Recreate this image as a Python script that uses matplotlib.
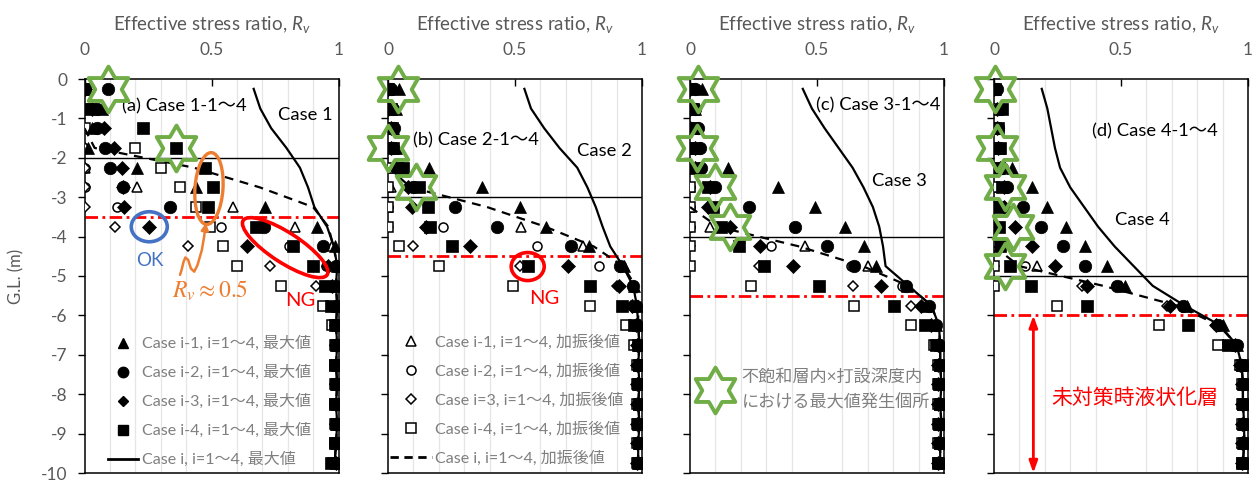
import numpy as np
import matplotlib
matplotlib.use("Agg")
import matplotlib.pyplot as plt
from matplotlib.lines import Line2D
from matplotlib.patches import Ellipse, FancyArrowPatch
from matplotlib.path import Path
from matplotlib.transforms import IdentityTransform, ScaledTranslation

plt.rcParams["font.family"] = ["Lato", "Noto Sans CJK JP", "DejaVu Sans"]
plt.rcParams["mathtext.fontset"] = "custom"
plt.rcParams["mathtext.it"] = "Lato:italic"
plt.rcParams["mathtext.rm"] = "Lato"

nan = np.nan

# ---------------- data ----------------
depth = [-0.25, -0.75, -1.25, -1.75, -2.25, -2.75, -3.25, -3.75, -4.25, -4.75,
         -5.25, -5.75, -6.25, -6.75, -7.25, -7.75, -8.25, -8.75, -9.25, -9.75]

# Case 1
a_max1 = [0.00, 0.07, 0.03, 0.015, 0.205, 0.44, 0.71, 0.915, 0.985, 0.995, 0.99, 0.995, 0.995, 0.995, 0.995, 0.995, 0.995, 0.995, 0.995, 0.99]
a_max2 = [0.094, 0.05, 0.05, 0.08, 0.10, 0.15, 0.335, 0.705, 0.94, 0.99, 0.99, 0.995, 0.99, 0.99, 0.99, 0.99, 0.99, 0.99, 0.99, 0.99]
a_max3 = [0.00, 0.03, 0.075, 0.115, 0.147, 0.15, 0.157, 0.252, 0.64, 0.96, 0.975, 0.99, 0.99, 0.99, 0.99, 0.99, 0.99, 0.99, 0.99, 0.99]
a_max4 = [0.00, 0.02, 0.23, 0.36, 0.473, 0.504, 0.488, 0.675, 0.82, 0.90, 0.945, 0.97, 0.985, 0.99, 0.985, 0.99, 0.985, 0.99, 0.985, 0.97]
a_aft1 = [0.00, 0.00, 0.00, 0.00, 0.00, 0.206, 0.583, 0.83, 0.975, 0.985, 0.985, 0.99, 0.99, 0.99, 0.99, 0.99, 0.99, 0.99, 0.99, 0.99]
a_aft2 = [0.00, 0.00, 0.00, 0.00, 0.00, 0.00, 0.127, 0.539, 0.804, 0.95, 0.98, 0.985, 0.985, 0.985, 0.985, 0.985, 0.985, 0.985, 0.985, 0.985]
a_aft3 = [0.00, 0.00, 0.00, 0.00, 0.00, 0.00, 0.00, 0.12, 0.407, 0.73, 0.91, 0.96, 0.98, 0.985, 0.985, 0.985, 0.985, 0.985, 0.985, 0.985]
a_aft4 = [0.00, 0.00, 0.00, 0.20, 0.302, 0.377, 0.44, 0.495, 0.544, 0.60, 0.775, 0.94, 0.974, 0.985, 0.985, 0.985, 0.985, 0.985, 0.985, 0.98]
a_line_max = [0.666, 0.692, 0.735, 0.795, 0.848, 0.88, 0.905, 0.955, 0.982, 0.995, 0.99, 0.995, 0.99, 0.995, 0.99, 0.995, 0.99, 0.995, 0.99, 0.985]
a_line_aft = [nan, nan, 0.0, 0.04, 0.43, 0.69, 0.90, 0.96, 0.98, 0.995, 0.99, 0.995, 0.99, 0.995, 0.99, 0.995, 0.99, 0.995, 0.99, 0.985]

# Case 2
b_max1 = [0.045, 0.03, 0.02, 0.03, 0.162, 0.37, 0.518, 0.622, 0.792, 0.93, 0.97, 0.98, 0.985, 0.99, 0.99, 0.99, 0.99, 0.99, 0.99, 0.99]
b_max2 = [0.01, 0.02, 0.025, 0.02, 0.05, 0.10, 0.263, 0.43, 0.72, 0.915, 0.965, 0.975, 0.98, 0.985, 0.985, 0.985, 0.985, 0.985, 0.985, 0.985]
b_max3 = [0.00, 0.00, 0.01, 0.01, 0.03, 0.078, 0.095, 0.15, 0.324, 0.707, 0.91, 0.96, 0.975, 0.98, 0.98, 0.98, 0.98, 0.98, 0.98, 0.98]
b_max4 = [0.00, 0.01, 0.015, 0.02, 0.06, 0.124, 0.158, 0.165, 0.25, 0.55, 0.796, 0.92, 0.97, 0.985, 0.99, 0.985, 0.99, 0.985, 0.99, 0.985]
b_aft1 = [0.00, 0.00, 0.00, 0.00, 0.00, 0.01, 0.00, 0.522, 0.769, 0.93, 0.97, 0.98, 0.985, 0.985, 0.985, 0.985, 0.985, 0.985, 0.985, 0.985]
b_aft2 = [0.00, 0.00, 0.00, 0.00, 0.00, 0.00, 0.00, 0.217, 0.587, 0.829, 0.96, 0.975, 0.98, 0.985, 0.985, 0.985, 0.985, 0.985, 0.985, 0.985]
b_aft3 = [0.00, 0.00, 0.00, 0.00, 0.00, 0.00, 0.00, 0.00, 0.097, 0.518, 0.90, 0.955, 0.975, 0.98, 0.98, 0.98, 0.98, 0.98, 0.98, 0.98]
b_aft4 = [0.00, 0.00, 0.00, 0.00, 0.00, 0.00, 0.00, 0.00, 0.044, 0.20, 0.494, 0.795, 0.936, 0.97, 0.98, 0.98, 0.98, 0.98, 0.98, 0.98]
b_line_max = [0.537, 0.563, 0.615, 0.675, 0.745, 0.785, 0.818, 0.845, 0.875, 0.925, 0.965, 0.98, 0.985, 0.99, 0.985, 0.99, 0.985, 0.99, 0.985, 0.985]
b_line_aft = [nan, nan, nan, nan, 0.0, 0.09, 0.39, 0.62, 0.81, 0.925, 0.975, 0.985, 0.985, 0.99, 0.985, 0.99, 0.985, 0.99, 0.985, 0.985]

# Case 3
c_max1 = [0.046, 0.02, 0.01, 0.02, 0.15, 0.346, 0.494, 0.612, 0.686, 0.732, 0.856, 0.93, 0.97, 0.985, 0.985, 0.985, 0.985, 0.985, 0.985, 0.985]
c_max2 = [0.02, 0.02, 0.03, 0.04, 0.045, 0.10, 0.233, 0.412, 0.54, 0.645, 0.85, 0.94, 0.97, 0.98, 0.98, 0.98, 0.98, 0.98, 0.98, 0.98]
c_max3 = [0.00, 0.00, 0.00, 0.02, 0.02, 0.08, 0.072, 0.157, 0.277, 0.405, 0.75, 0.908, 0.95, 0.975, 0.975, 0.975, 0.975, 0.975, 0.975, 0.975]
c_max4 = [0.00, 0.01, 0.01, 0.02, 0.02, 0.07, 0.09, 0.124, 0.192, 0.29, 0.506, 0.804, 0.924, 0.97, 0.985, 0.98, 0.985, 0.98, 0.985, 0.975]
c_aft1 = [0.00, 0.00, 0.00, 0.00, 0.00, 0.00, 0.00, 0.078, 0.451, 0.70, 0.85, 0.93, 0.97, 0.98, 0.98, 0.98, 0.98, 0.98, 0.98, 0.98]
c_aft2 = [0.00, 0.00, 0.00, 0.00, 0.00, 0.00, 0.00, 0.00, 0.318, 0.634, 0.836, 0.94, 0.97, 0.98, 0.98, 0.98, 0.98, 0.98, 0.98, 0.98]
c_aft3 = [0.00, 0.00, 0.00, 0.00, 0.00, 0.00, 0.00, 0.00, 0.00, 0.27, 0.64, 0.87, 0.95, 0.975, 0.975, 0.975, 0.975, 0.975, 0.975, 0.975]
c_aft4 = [0.00, 0.00, 0.00, 0.00, 0.00, 0.00, 0.00, 0.00, 0.00, 0.00, 0.24, 0.644, 0.872, 0.96, 0.975, 0.975, 0.975, 0.975, 0.975, 0.975]
c_line_max = [0.444, 0.48, 0.53, 0.585, 0.64, 0.683, 0.72, 0.745, 0.76, 0.77, 0.86, 0.95, 0.98, 0.985, 0.985, 0.99, 0.985, 0.99, 0.985, 0.985]
c_line_aft = [nan, nan, nan, nan, nan, nan, 0.0, 0.11, 0.43, 0.68, 0.86, 0.95, 0.98, 0.985, 0.985, 0.99, 0.985, 0.99, 0.985, 0.985]

# Case 4
d_max1 = [0.00, 0.01, 0.01, 0.02, 0.07, 0.148, 0.21, 0.282, 0.358, 0.444, 0.516, 0.759, 0.90, 0.955, 0.975, 0.98, 0.98, 0.98, 0.98, 0.98]
d_max2 = [0.013, 0.02, 0.015, 0.02, 0.03, 0.05, 0.113, 0.185, 0.273, 0.358, 0.483, 0.745, 0.883, 0.955, 0.975, 0.98, 0.98, 0.98, 0.98, 0.98]
d_max3 = [0.00, 0.01, 0.01, 0.015, 0.024, 0.04, 0.04, 0.083, 0.148, 0.24, 0.365, 0.693, 0.875, 0.95, 0.97, 0.975, 0.975, 0.975, 0.975, 0.975]
d_max4 = [0.005, 0.03, 0.017, 0.024, 0.02, 0.03, 0.01, 0.02, 0.024, 0.063, 0.146, 0.365, 0.765, 0.923, 0.975, 0.985, 0.98, 0.985, 0.985, 0.975]
d_aft1 = [0.00, 0.00, 0.00, 0.00, 0.00, 0.00, 0.00, 0.00, 0.00, 0.168, 0.50, 0.75, 0.89, 0.95, 0.97, 0.975, 0.975, 0.975, 0.975, 0.975]
d_aft2 = [0.00, 0.00, 0.00, 0.00, 0.00, 0.00, 0.00, 0.00, 0.00, 0.122, 0.48, 0.74, 0.88, 0.95, 0.97, 0.975, 0.975, 0.975, 0.975, 0.975]
d_aft3 = [0.00, 0.00, 0.00, 0.00, 0.00, 0.00, 0.00, 0.00, 0.00, 0.00, 0.345, 0.68, 0.875, 0.95, 0.97, 0.975, 0.975, 0.975, 0.975, 0.975]
d_aft4 = [0.00, 0.00, 0.00, 0.00, 0.00, 0.00, 0.00, 0.00, 0.00, 0.00, 0.00, 0.247, 0.651, 0.883, 0.97, 0.975, 0.975, 0.975, 0.975, 0.975]
d_line_max = [0.188, 0.21, 0.225, 0.24, 0.26, 0.30, 0.355, 0.41, 0.475, 0.55, 0.625, 0.75, 0.89, 0.955, 0.975, 0.98, 0.98, 0.985, 0.985, 0.98]
d_line_aft = [nan, nan, nan, nan, nan, nan, nan, nan, 0.0, 0.10, 0.43, 0.72, 0.885, 0.955, 0.975, 0.98, 0.98, 0.985, 0.985, 0.98]

# groundwater level and improvement depth for each case
gwl_depth = [-2.0, -3.0, -4.0, -5.0]
pile_depth = [-3.5, -4.5, -5.5, -6.0]

# maxima within the unsaturated layer and the pile depth (x, depth)
star_x = [[0.094, 0.36], [0.04, 0.0, 0.112], [0.033, 0.026, 0.098, 0.157], [0.004, 0.01, 0.043, 0.076, 0.043]]
star_d = [[-0.25, -1.75], [-0.25, -1.75, -2.75], [-0.25, -1.75, -2.75, -3.75], [-0.25, -1.75, -2.75, -3.75, -4.75]]

panel_titles = ["(a) Case 1-1～4", "(b) Case 2-1～4", "(c) Case 3-1～4", "(d) Case 4-1～4"]
case_names = ["Case 1", "Case 2", "Case 3", "Case 4"]
x_ticks = [0, 0.5, 1]
x_tick_labels = ["0", "0.5", "1"]
y_ticks = [0, -1, -2, -3, -4, -5, -6, -7, -8, -9, -10]
y_tick_labels = ["0", "-1", "-2", "-3", "-4", "-5", "-6", "-7", "-8", "-9", "-10"]

max_labels = ["Case i-1, i=1～4, 最大値", "Case i-2, i=1～4, 最大値",
              "Case i-3, i=1～4, 最大値", "Case i-4, i=1～4, 最大値", "Case i, i=1～4, 最大値"]
aft_labels = ["Case i-1, i=1～4, 加振後値", "Case i-2, i=1～4, 加振後値",
              "Case i=3, i=1～4, 加振後値", "Case i-4, i=1～4, 加振後値", "Case i, i=1～4, 加振後値"]
star_label = "不飽和層内×打設深度内\nにおける最大値発生個所"

cases = [
    (a_max1, a_max2, a_max3, a_max4, a_aft1, a_aft2, a_aft3, a_aft4, a_line_max, a_line_aft),
    (b_max1, b_max2, b_max3, b_max4, b_aft1, b_aft2, b_aft3, b_aft4, b_line_max, b_line_aft),
    (c_max1, c_max2, c_max3, c_max4, c_aft1, c_aft2, c_aft3, c_aft4, c_line_max, c_line_aft),
    (d_max1, d_max2, d_max3, d_max4, d_aft1, d_aft2, d_aft3, d_aft4, d_line_max, d_line_aft),
]

# ---------------- styling ----------------
GRAY = "#595959"
LGRAY = "#7f7f7f"
GREEN = "#70AD47"
BLUE = "#4472C4"
ORANGE = "#ED7D31"
RED = "#FF0000"
markers = ["^", "o", "D", "s"]
filled_ms = [9, 9, 7, 8.5]
open_ms = [6.5, 6.5, 5, 6.5]
hexagram = Path.unit_regular_star(6, innerCircle=0.577)
star_ms, star_mew = 33, 2.8

W, H, DPI = 1260, 482, 100
fig = plt.figure(figsize=(W / DPI, H / DPI), dpi=DPI)
lefts = [84.5, 388, 690, 994]
ax_w, ax_top, ax_bot = 254, 79, 473


def px_patch(ax, patch, cx, cy):
    """Place a patch whose geometry is given in pixels at data point (cx, cy)."""
    patch.set_transform(IdentityTransform() + ScaledTranslation(cx, cy, ax.transData))
    ax.add_patch(patch)


axes = []
for k in range(4):
    ax = fig.add_axes([lefts[k] / W, (H - ax_bot) / H, ax_w / W, (ax_bot - ax_top) / H])
    axes.append(ax)
    vals = cases[k]
    ax.set_xlim(0, 1)
    ax.set_ylim(-10, 0)
    ax.set_xticks(np.arange(0.1, 1.0, 0.1), minor=True)
    ax.grid(True, which="minor", axis="x", color="#e6e6e6", lw=0.9, zorder=0)
    ax.set_axisbelow(True)
    ax.xaxis.tick_top()
    ax.xaxis.set_label_position("top")
    ax.set_xticks(x_ticks)
    ax.set_xticklabels(x_tick_labels)
    ax.tick_params(axis="x", which="major", direction="in", length=5, width=1,
                   pad=15, labelsize=12.5, labelcolor=GRAY, top=True, bottom=False)
    ax.tick_params(axis="x", which="minor", length=0, top=False, bottom=False)
    ax.set_xlabel("Effective stress ratio, $R_v$", fontsize=13.5, color=GRAY, labelpad=9)
    ax.set_yticks(y_ticks)
    if k == 0:
        ax.set_yticklabels(y_tick_labels)
        ax.set_ylabel("G.L. (m)", fontsize=12, color=GRAY, labelpad=12)
    else:
        ax.set_yticklabels([])
    ax.tick_params(axis="y", direction="out", length=5, width=1, pad=7,
                   labelsize=12.5, labelcolor=GRAY)
    for s in ax.spines.values():
        s.set_color("black")
        s.set_linewidth(1.1)

    ax.axhline(gwl_depth[k], color="black", lw=1.0, zorder=2)
    ax.axhline(pile_depth[k], color=RED, lw=2.0, dashes=(4.5, 1.6, 1.0, 1.6), zorder=2)

    # after-shaking values (open markers)
    for j in range(4):
        ax.plot(vals[4 + j], depth, ls="none", marker=markers[j], ms=open_ms[j],
                mfc="white", mec="black", mew=1.1, zorder=3)
    ax.plot(vals[9], depth, color="black", lw=1.6, dashes=(4, 3), zorder=4)
    ax.plot(vals[8], depth, color="black", lw=1.6, zorder=4)
    # maximum values (filled markers)
    for j in range(4):
        ax.plot(vals[j], depth, ls="none", marker=markers[j], ms=filled_ms[j],
                mfc="black", mec="black", mew=0.5, zorder=5)
    # hexagram markers
    ax.plot(star_x[k], star_d[k], ls="none", marker=hexagram, ms=star_ms,
            mfc="none", mec=GREEN, mew=star_mew, zorder=8, clip_on=False)

fs_title = 13.2
axa, axb, axc, axd = axes
axa.text(0.147, -0.70, panel_titles[0], fontsize=fs_title, va="center", ha="left", zorder=6)
axa.text(0.76, -0.91, case_names[0], fontsize=fs_title, va="center", ha="left", zorder=6)
axb.text(0.10, -1.55, panel_titles[1], fontsize=fs_title, va="center", ha="left", zorder=6)
axb.text(0.745, -1.84, case_names[1], fontsize=fs_title, va="center", ha="left", zorder=6)
axc.text(0.497, -0.66, panel_titles[2], fontsize=fs_title, va="center", ha="left", zorder=6)
axc.text(0.718, -2.60, case_names[2], fontsize=fs_title, va="center", ha="left", zorder=6)
axd.text(0.385, -1.34, panel_titles[3], fontsize=fs_title, va="center", ha="left", zorder=6)
axd.text(0.476, -3.58, case_names[3], fontsize=fs_title, va="center", ha="left", zorder=6)

# legends
fs_leg = 11.5
h_max = [Line2D([], [], ls="none", marker=markers[j], ms=filled_ms[j] - 1.5, mfc="black", mec="black")
         for j in range(4)] + [Line2D([], [], color="black", lw=2)]
leg = axa.legend(h_max, max_labels, loc="center left", bbox_to_anchor=(0.0925, 0.181),
                 frameon=False, fontsize=fs_leg, labelcolor=LGRAY, handlelength=1.9,
                 handletextpad=0.25, labelspacing=0.86, borderpad=0, borderaxespad=0)
leg.set_zorder(9)
h_aft = [Line2D([], [], ls="none", marker=markers[j], ms=open_ms[j], mfc="white", mec="black", mew=1.1)
         for j in range(4)] + [Line2D([], [], color="black", lw=2, dashes=(3, 2))]
leg = axb.legend(h_aft, aft_labels, loc="center left", bbox_to_anchor=(0.008, 0.185),
                 frameon=False, fontsize=fs_leg, labelcolor=LGRAY, handlelength=2.6,
                 handletextpad=0.2, labelspacing=0.86, borderpad=0, borderaxespad=0)
leg.set_zorder(9)
h_star = [Line2D([], [], ls="none", marker=hexagram, ms=star_ms, mfc="none", mec=GREEN, mew=star_mew)]
leg = axc.legend(h_star, [star_label], loc="center left", bbox_to_anchor=(0.035, 0.212),
                 frameon=False, fontsize=12.3, labelcolor=LGRAY, handlelength=1.9,
                 handletextpad=0.6, borderpad=0, borderaxespad=0)
for t in leg.get_texts():
    t.set_linespacing(1.7)
leg.set_zorder(9)

# annotations in panel (a)
px_patch(axa, Ellipse((0, 0), 36, 30, fill=False, ec=BLUE, lw=2.6, zorder=7), 0.255, -3.75)
axa.text(0.258, -4.6, "OK", color=BLUE, fontsize=13.5, ha="center", va="center", zorder=7)
px_patch(axa, Ellipse((0, 0), 28, 72, angle=-4, fill=False, ec=ORANGE, lw=2.4, zorder=7), 0.49, -2.78)
squiggle = Path([(0.376, -4.97), (0.382, -4.85), (0.39, -4.64), (0.397, -4.53), (0.408, -4.59),
                 (0.419, -4.81), (0.432, -4.89), (0.445, -4.72), (0.462, -4.34), (0.471, -4.0),
                 (0.478, -3.66)])
axa.add_patch(FancyArrowPatch(path=squiggle, arrowstyle="-|>,head_length=4,head_width=2.2",
                              color=ORANGE, lw=1.8, zorder=7))
axa.text(0.495, -5.38, r"$R_v\approx0.5$", color=ORANGE, fontsize=17, ha="center", va="center",
         math_fontfamily="stix", zorder=7)
px_patch(axa, Ellipse((0, 0), 100, 30, angle=-33, fill=False, ec=RED, lw=2.6, zorder=7), 0.79, -4.28)
axa.text(0.85, -5.62, "NG", color=RED, fontsize=14.5, ha="center", va="center", zorder=7)

# annotation in panel (b)
px_patch(axb, Ellipse((0, 0), 33, 28, fill=False, ec=RED, lw=2.6, zorder=7), 0.55, -4.76)
axb.text(0.616, -5.57, "NG", color=RED, fontsize=14.5, ha="center", va="center", zorder=7)

# non-liquefied layer indication in panel (d)
axd.annotate("", xy=(0.155, -10.0), xytext=(0.155, pile_depth[3]),
             arrowprops=dict(arrowstyle="<|-|>,head_length=0.7,head_width=0.25", color=RED, lw=2,
                             shrinkA=0, shrinkB=0), zorder=7)
axd.text(0.555, -8.1, "未対策時液状化層", color=RED, fontsize=15, ha="center", va="center", zorder=7)

fig.savefig("out.png", dpi=DPI)
